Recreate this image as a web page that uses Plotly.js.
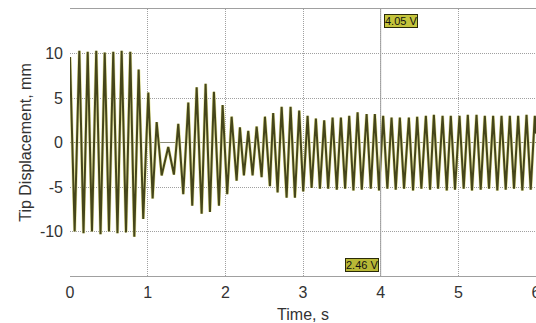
<!DOCTYPE html>
<html>
<head>
<meta charset="utf-8">
<script src="https://cdn.plot.ly/plotly-3.0.1.min.js"></script>
<style>
html,body{margin:0;padding:0;background:#fff;}
#chart{width:536px;height:323px;}
</style>
</head>
<body>
<div id="chart"></div>
<script>
// Extrema of the tip displacement trace
const timeS = [
0.000,0.060,0.120,0.174,0.228,0.283,0.338,0.393,0.447,0.502,0.557,0.611,0.665,0.721,0.776,0.828,
0.884,0.943,1.008,1.064,1.116,1.180,1.265,1.338,1.394,1.458,1.523,1.574,1.631,1.695,1.746,1.802,
1.853,1.918,1.965,2.024,2.081,2.145,2.188,2.239,2.295,2.351,2.403,2.467,2.510,2.574,2.616,2.673,
2.725,2.789,2.840,2.896,2.951,3.003,3.059,3.111,3.166,3.218,3.273,3.324,3.381,3.435,3.488,3.542,
3.595,3.649,3.703,3.757,3.819,3.873,3.925,3.979,4.032,4.086,4.140,4.194,4.247,4.301,4.363,4.417,
4.470,4.524,4.582,4.636,4.685,4.739,4.797,4.851,4.903,4.957,5.015,5.069,5.122,5.176,5.234,5.288,
5.341,5.395,5.448,5.502,5.556,5.610,5.663,5.717,5.770,5.824,5.878,5.932,5.985,6.000];
const displacementMm = [
9.6,-10.0,10.3,-10.2,10.2,-10.0,10.3,-10.3,10.1,-10.0,10.2,-10.2,10.3,-10.1,10.2,-10.6,
8.2,-8.6,5.6,-6.3,2.3,-3.7,-0.5,-3.6,2.1,-5.8,4.5,-7.1,6.2,-8.0,6.6,-7.8,
5.7,-7.1,4.2,-5.8,2.9,-4.3,1.7,-3.7,1.3,-3.7,1.8,-3.9,2.9,-4.9,3.3,-5.6,
4.0,-6.2,4.0,-6.2,3.6,-5.5,3.0,-5.1,2.7,-5.2,2.5,-5.2,2.8,-5.3,2.8,-5.2,
3.0,-5.4,3.4,-5.3,3.2,-5.2,3.2,-5.4,3.0,-5.2,2.8,-5.3,2.8,-5.2,2.8,-5.4,
2.9,-5.2,3.0,-5.3,3.1,-5.2,3.0,-5.4,3.0,-5.3,3.0,-5.2,3.1,-5.4,3.1,-5.3,
3.0,-5.2,3.0,-5.4,3.0,-5.3,3.0,-5.2,3.0,-5.4,3.1,-5.3,3.0,1.0];

const xTickVals = [0,1,2,3,4,5,6];
const xTickText = ["0","1","2","3","4","5","6"];
const yTickVals = [-10,-5,0,5,10];
const yTickText = ["-10","-5","0","5","10"];

const cursorTime = 4.0;
const cursorLabelTop = "4.05 V";
const cursorLabelBottom = "2.46 V";

const FONT = '"Liberation Sans",Arial,sans-serif';

const traces = [
  {x: timeS, y: displacementMm, type:'scatter', mode:'lines',
   line:{color:'#e6e6a0', width:3.2}, hoverinfo:'skip', showlegend:false},
  {x: timeS, y: displacementMm, type:'scatter', mode:'lines',
   line:{color:'#45451a', width:2}, showlegend:false}
];

const layout = {
  width:536, height:323,
  margin:{l:70, r:0, t:9, b:47},
  paper_bgcolor:'#ffffff', plot_bgcolor:'#ffffff',
  font:{family:FONT, size:16, color:'#333333'},
  showlegend:false,
  xaxis:{
    range:[0,6], tickvals:xTickVals, ticktext:xTickText,
    showgrid:true, gridcolor:'#a0a0a0', griddash:'1px,1px', gridwidth:1,
    zeroline:false, showline:true, mirror:true, linecolor:'#a0a0a0', linewidth:1,
    ticks:'', ticklabelstandoff:2, ticklabeloverflow:'allow',
    title:{text:'Time, s', font:{family:FONT, size:16, color:'#333333'}, standoff:8}
  },
  yaxis:{
    range:[-15,15], tickvals:yTickVals, ticktext:yTickText,
    showgrid:true, gridcolor:'#a0a0a0', griddash:'1px,1px', gridwidth:1,
    zeroline:true, zerolinecolor:'#8a8a76', zerolinewidth:1,
    showline:false, ticks:'', ticklabelstandoff:6,
    title:{text:'Tip Displacement, mm', font:{family:FONT, size:16, color:'#333333'}, standoff:4}
  },
  shapes:[
    {type:'line', xref:'x', yref:'paper', x0:cursorTime, x1:cursorTime, y0:0, y1:1,
     line:{color:'#a0a0a0', width:1}}
  ],
  annotations:[
    {xref:'x', yref:'paper', x:cursorTime, y:0.955, xanchor:'left', yanchor:'middle', xshift:3,
     text:cursorLabelTop, showarrow:false, bgcolor:'#c4c43c', bordercolor:'#2a2a08', borderwidth:1, borderpad:0,
     font:{family:FONT, size:11, color:'#111111'}},
    {xref:'x', yref:'paper', x:cursorTime, y:0.041, xanchor:'right', yanchor:'middle', xshift:-2,
     text:cursorLabelBottom, showarrow:false, bgcolor:'#b8b836', bordercolor:'#2a2a08', borderwidth:1, borderpad:0,
     font:{family:FONT, size:11, color:'#111111'}}
  ]
};

Plotly.newPlot('chart', traces, layout, {staticPlot:true, displayModeBar:false});
</script>
</body>
</html>
